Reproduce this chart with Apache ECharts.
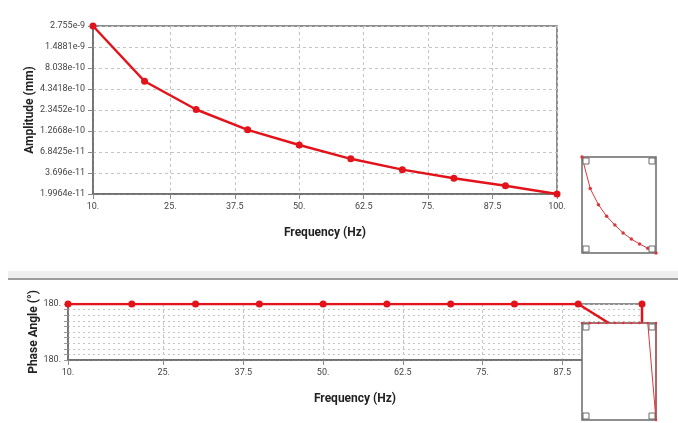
<!DOCTYPE html>
<html><head><meta charset="utf-8">
<script src="https://cdn.jsdelivr.net/npm/echarts@6/dist/echarts.min.js"></script>
<style>html,body{margin:0;padding:0;background:#fff}#c{width:678px;height:423px}</style>
</head><body><div id="c"></div>
<script>
// ---- data ----
const freq = [10, 20, 30, 40, 50, 60, 70, 80, 90, 100];
const amplitude = [2.755e-9, 5.45e-10, 2.38e-10, 1.31e-10, 8.4e-11, 5.6e-11, 4.08e-11, 3.17e-11, 2.55e-11, 1.9964e-11];
const phaseFreq = [10, 20, 30, 40, 50, 60, 70, 80, 90, 100, 100];
const phase = [180, 180, 180, 180, 180, 180, 180, 180, 180, 179.929, 180];
const xTickValues = [10, 25, 37.5, 50, 62.5, 75, 87.5, 100];
const xTickLabels = ['10.', '25.', '37.5', '50.', '62.5', '75.', '87.5', '100.'];
const ampTickLabels = ['1.9964e-11', '3.696e-11', '6.8425e-11', '1.2668e-10', '2.3452e-10', '4.3418e-10', '8.038e-10', '1.4881e-9', '2.755e-9'];
const phaseTickValues = [179.9, 179.91, 179.92, 179.93, 179.94, 179.95, 179.96, 179.97, 179.98, 179.99, 180];
const phaseLabelValues = [179.9, 180];
const phaseLabel = '180.';

// ---- helpers ----
const ampTickValues = ampTickLabels.map(Number);
const RED = '#e3131b';
const FONT = "'Liberation Sans Narrow', Roboto, sans-serif";
const labelStyle = { fontFamily: FONT, fontSize: 9, color: '#444' };
const nameStyle = { fontFamily: FONT, fontSize: 12, fontWeight: 'bold', color: '#222' };
const axisLineStyle = { show: true, lineStyle: { color: '#6a6a6a', width: 1.5 } };
function xFmt(v) {
  for (let i = 0; i < xTickValues.length; i++) if (Math.abs(v - xTickValues[i]) < 1e-6) return xTickLabels[i];
  return '';
}
function ampFmt(v) {
  let best = 0, bd = Infinity;
  ampTickValues.forEach((t, i) => { const d = Math.abs(Math.log(v) - Math.log(t)); if (d < bd) { bd = d; best = i; } });
  return ampTickLabels[best];
}
const ampPairs = freq.map((f, i) => [f, amplitude[i]]);
const phasePairs = phaseFreq.map((f, i) => [f, phase[i]]);

function mainX(gi, gap) {
  return {
    type: 'value', gridIndex: gi, min: 10, max: 100,
    axisLine: axisLineStyle,
    axisTick: { show: true, length: 5, customValues: xTickValues, lineStyle: { color: '#888' } },
    axisLabel: Object.assign({ customValues: xTickValues, formatter: xFmt, margin: 8 }, labelStyle),
    splitLine: { show: true, lineStyle: { type: [3, 3], color: '#c4c4c4', width: 1 } },
    name: 'Frequency (Hz)', nameLocation: 'middle', nameGap: gap, nameMoveOverlap: false, nameTextStyle: nameStyle
  };
}
const hiddenAxis = { show: false, splitLine: { show: false } };

const option = {
  animation: false,
  backgroundColor: '#fff',
  grid: [
    { left: 93, top: 26, width: 464, height: 168, show: true, borderColor: '#6a6a6a', borderWidth: 1.5, backgroundColor: 'transparent' },
    { left: 582, top: 157, width: 74, height: 96, show: true, borderColor: '#6a6a6a', borderWidth: 1.5, backgroundColor: '#fff', zlevel: 1 },
    { left: 68, top: 304, width: 574, height: 56, show: true, borderColor: '#6a6a6a', borderWidth: 1.5, backgroundColor: 'transparent' },
    { left: 582, top: 323, width: 74, height: 97, show: true, borderColor: '#6a6a6a', borderWidth: 1.5, backgroundColor: '#fff', zlevel: 1 }
  ],
  xAxis: [
    mainX(0, 33),
    Object.assign({ type: 'value', gridIndex: 1, min: 10, max: 100, zlevel: 1 }, hiddenAxis),
    mainX(2, 33),
    Object.assign({ type: 'value', gridIndex: 3, min: 10, max: 100, zlevel: 1 }, hiddenAxis)
  ],
  yAxis: [
    {
      type: 'log', gridIndex: 0, min: ampTickValues[0], max: ampTickValues[ampTickValues.length - 1],
      axisLine: axisLineStyle,
      axisTick: { show: true, length: 5, customValues: ampTickValues, lineStyle: { color: '#888' } },
      axisLabel: Object.assign({ customValues: ampTickValues, formatter: ampFmt, margin: 8 }, labelStyle),
      splitLine: { show: true, lineStyle: { type: [3, 3], color: '#c4c4c4', width: 1 } },
      name: 'Amplitude (mm)', nameLocation: 'middle', nameGap: 57, nameMoveOverlap: false, nameTextStyle: nameStyle
    },
    Object.assign({ type: 'log', gridIndex: 1, min: ampTickValues[0], max: ampTickValues[ampTickValues.length - 1], zlevel: 1 }, hiddenAxis),
    {
      type: 'value', gridIndex: 2, min: 179.9, max: 180,
      axisLine: axisLineStyle,
      axisTick: { show: true, length: 4, customValues: phaseTickValues, lineStyle: { color: '#999' } },
      axisLabel: Object.assign({ customValues: phaseLabelValues, formatter: () => phaseLabel, margin: 7 }, labelStyle),
      splitLine: { show: true, lineStyle: { type: [2, 3], color: '#c4c4c4', width: 1 } },
      name: 'Phase Angle (°)', nameLocation: 'middle', nameGap: 28, nameMoveOverlap: false, nameTextStyle: nameStyle
    },
    Object.assign({ type: 'value', gridIndex: 3, min: 'dataMin', max: 'dataMax', zlevel: 1 }, hiddenAxis)
  ],
  series: [
    { type: 'line', xAxisIndex: 0, yAxisIndex: 0, data: ampPairs, symbol: 'circle', symbolSize: 7,
      lineStyle: { color: RED, width: 2.5 }, itemStyle: { color: RED }, z: 3 },
    { type: 'line', xAxisIndex: 1, yAxisIndex: 1, data: ampPairs, symbol: 'circle', symbolSize: 3.5, zlevel: 1, z: 5,
      lineStyle: { color: '#d9383e', width: 1 }, itemStyle: { color: '#d9383e' } },
    { type: 'line', xAxisIndex: 2, yAxisIndex: 2, data: phasePairs, symbol: 'circle', symbolSize: 7,
      lineStyle: { color: RED, width: 2.5 }, itemStyle: { color: RED }, z: 3 },
    { type: 'line', xAxisIndex: 3, yAxisIndex: 3, data: phasePairs, symbol: 'circle', symbolSize: 2.5, zlevel: 1, z: 5,
      lineStyle: { color: '#d9383e', width: 1 }, itemStyle: { color: '#d9383e' } }
  ],
  graphic: []
};

// divider between the two panels
option.graphic.push({ type: 'rect', shape: { x: 8, y: 271, width: 670, height: 7 }, style: { fill: '#efefef' }, silent: true });
option.graphic.push({ type: 'rect', shape: { x: 8, y: 278, width: 670, height: 2 }, style: { fill: '#9c9c9c' }, silent: true });
// corner handles of the two thumbnails
[[582, 157, 74, 96], [582, 323, 74, 97]].forEach(([x, y, w, h]) => {
  [[x + 1, y + 1], [x + w - 7, y + 1], [x + 1, y + h - 7], [x + w - 7, y + h - 7]].forEach(([cx, cy]) => {
    option.graphic.push({ type: 'rect', zlevel: 1, z: 100, silent: true, shape: { x: cx, y: cy, width: 6, height: 6 },
      style: { fill: '#fff', stroke: '#6a6a6a', lineWidth: 1 } });
  });
});

const chart = echarts.init(document.getElementById('c'), null, { renderer: 'canvas' });
chart.setOption(option);
</script>
</body></html>
